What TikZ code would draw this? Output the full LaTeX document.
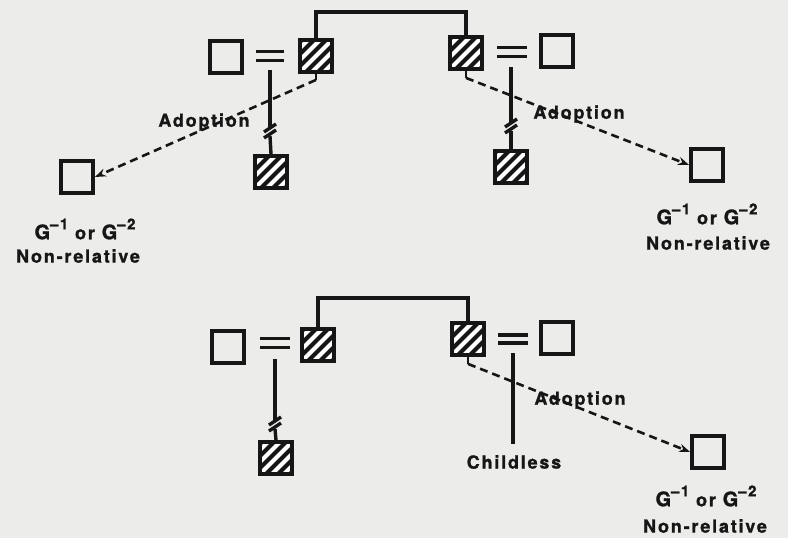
\documentclass[tikz,border=0pt]{standalone}
\usepackage{fontspec}
\setmainfont{TeX Gyre Heros}[LetterSpace=10,BoldFeatures={FakeBold=1.2}]
\usetikzlibrary{arrows.meta,calc}
\definecolor{bg}{RGB}{236,236,234}
\definecolor{ink}{RGB}{22,22,22}
\tikzset{
  sq/.style={draw=ink,line width=3.8pt,minimum size=32pt,inner sep=0pt,fill=bg},
  hat/.style={sq,fill=ink,path picture={
      \foreach \i in {-48,-36,...,48}
        \draw[white,line width=4pt] ([xshift=\i pt]path picture bounding box.south west) -- ++(48pt,48pt);}},
  ln/.style={draw=ink,line width=3.4pt},
  eq/.style={draw=ink,line width=3.6pt},
  adopt/.style={draw=ink,line width=2.6pt,dash pattern=on 8pt off 5pt,-{Stealth[length=11pt,width=8pt]}},
  lab/.style={font=\fontsize{18}{22}\selectfont\bfseries,text=ink,inner sep=0pt},
}
\newcommand{\gtext}{{\fontsize{20}{22}\selectfont G}\raisebox{0.55em}{\fontsize{15}{17}\selectfont\bfseries–1} or {\fontsize{20}{22}\selectfont G}\raisebox{0.55em}{\fontsize{15}{17}\selectfont\bfseries–2}}
\newcommand{\brk}[2]{% x, y
  \draw[ln] (#1-6,#2+2) -- (#1+6,#2-6);
  \draw[ln] (#1-6,#2+8) -- (#1+6,#2);
}
\begin{document}
\begin{tikzpicture}[x=1pt,y=-1pt]
\useasboundingbox[fill=bg] (0,0) rectangle (788,538);

% ---------- top diagram ----------
\node[sq]  (a1) at (226,57) {};
\node[hat] (a2) at (316,56) {};
\node[hat] (a3) at (466,53) {};
\node[sq]  (a4) at (557,51) {};
\node[hat] (c1) at (271,172) {};
\node[hat] (c2) at (511,167) {};
\node[sq]  (n1) at (77,177) {};
\node[sq]  (n2) at (707,165) {};

\coordinate (t1) at (390,12);
\draw[ln] (a2.north) |- (t1) -| (a3.north);

% equals
\coordinate (e1) at (270,56);
\draw[eq] ([shift={(-14,-4.5)}]e1) -- ++(28,0);
\draw[eq] ([shift={(-14,4.5)}]e1) -- ++(28,0);
\coordinate (e2) at (512,52);
\draw[eq] ([shift={(-15,-4.5)}]e2) -- ++(30,0);
\draw[eq] ([shift={(-15,4.5)}]e2) -- ++(30,0);

% descent lines with break marks
\coordinate (d1) at (270,70);
\coordinate (d1a) at (270,128);
\coordinate (d1b) at (270,136);
\draw[ln] (d1) -- (d1a);
\draw[ln] (d1b) -- (c1.north);
\brk{270}{130}
\coordinate (d2) at (511,67);
\coordinate (d2a) at (511,123);
\coordinate (d2b) at (511,131);
\draw[ln] (d2) -- (d2a);
\draw[ln] (d2b) -- (c2.north);
\brk{511}{125}

% adoption arrows
\draw[ln,line width=2.6pt] (a2.south) -- ++(0,6) coordinate (h1);
\draw[adopt] (h1) -- (n1.east);
\draw[ln,line width=2.6pt] (a3.south) -- ++(0,7) coordinate (h2);
\draw[adopt] (h2) -- (n2.west);

\node[lab] (l1) at (204,122) {Adoption};
\node[lab] (l2) at (579,114) {Adoption};
\node[lab] (g1) at (85,229) {\gtext};
\node[lab] (r1) at (78,256) {Non-relative};
\node[lab] (g2) at (707,214) {\gtext};
\node[lab] (r2) at (708,243) {Non-relative};

% ---------- bottom diagram ----------
\node[sq]  (b1) at (228,347) {};
\node[hat] (b2) at (318,345) {};
\node[hat] (b3) at (468,339) {};
\node[sq]  (b4) at (557,338) {};
\node[hat] (bc) at (276,458) {};
\node[sq]  (bn) at (708,452) {};

\coordinate (t2) at (393,298);
\draw[ln] (b2.north) |- (t2) -| (b3.north);

\coordinate (e3) at (275,343);
\draw[eq] ([shift={(-15,-4.5)}]e3) -- ++(30,0);
\draw[eq] ([shift={(-15,4.5)}]e3) -- ++(30,0);
\coordinate (e4) at (513,339);
\draw[eq] ([shift={(-15,-4)}]e4) -- ++(30,0);
\draw[eq] ([shift={(-15,4)}]e4) -- ++(30,0);

\coordinate (d3) at (275,359);
\coordinate (d3a) at (275,421);
\coordinate (d3b) at (275,429);
\draw[ln] (d3) -- (d3a);
\draw[ln] (d3b) -- (bc.north);
\brk{275}{423}

\coordinate (d4) at (513,353);
\coordinate (d4b) at (513,444);
\draw[ln] (d4) -- (d4b);
\node[lab] (cl) at (514,462) {Childless};

\draw[ln,line width=2.6pt] (b3.south) -- ++(0,7) coordinate (h3);
\draw[adopt] (h3) -- (bn.west);

\node[lab] (l3) at (580,400) {Adoption};
\node[lab] (g3) at (706,496) {\gtext};
\node[lab] (r3) at (705,526) {Non-relative};
\end{tikzpicture}
\end{document}
